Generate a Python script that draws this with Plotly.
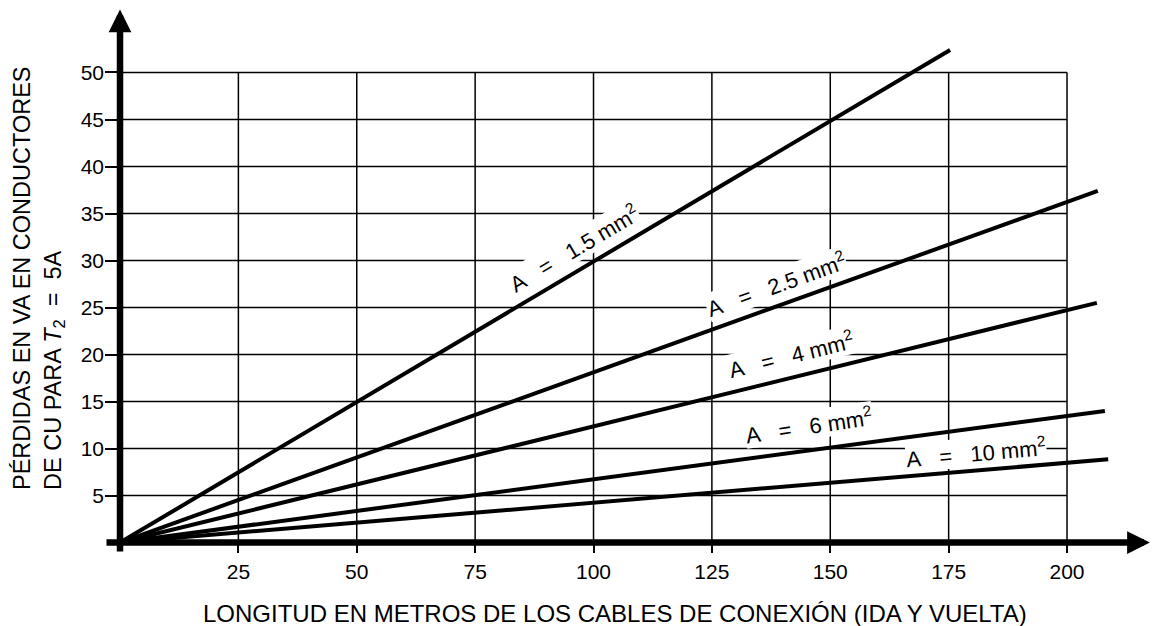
import plotly.graph_objects as go

# ---- data ----
x_ticks = [25, 50, 75, 100, 125, 150, 175, 200]
y_ticks = [5, 10, 15, 20, 25, 30, 35, 40, 45, 50]

sections = ["1.5", "2.5", "4", "6", "10"]          # conductor cross-section, mm²
x_end = [175.3, 206.5, 206.3, 208.0, 208.7]        # metres at end of each drawn line
y_end = [52.4, 37.4, 25.5, 14.0, 8.85]             # VA at end of each drawn line

# label placement (data coords) and rotation
label_x = [95.8, 138.5, 141.8, 145.5, 180.8]
label_y = [31.3, 27.55, 20.1, 12.5, 9.65]
label_angle = [-30.7, -19.7, -13.8, -8.5, -5.0]

x_axis_end = 217.5
y_axis_end = 56.7

FONT = "Arial, Liberation Sans, Helvetica, sans-serif"

# geometry (page body has an 8px margin, so the figure is offset by 8px)
W, H = 1152, 618
L, R, T, B = 97, 5, 0, 73
x_range = [-3.17, 218.58]
y_range = [-1.11, 56.86]

fig = go.Figure()

# grid (only within 0..200 x 0..50)
gx, gy = [], []
gmax_x, gmax_y = x_ticks[-1], y_ticks[-1]
for yv in y_ticks:
    gx += [0, gmax_x, None]
    gy += [yv, yv, None]
for xv in x_ticks:
    gx += [xv, xv, None]
    gy += [0, gmax_y, None]
fig.add_trace(go.Scatter(x=gx, y=gy, mode="lines",
                         line=dict(color="black", width=1.5),
                         hoverinfo="skip", showlegend=False))

# loss lines
for s, xe, ye in zip(sections, x_end, y_end):
    fig.add_trace(go.Scatter(x=[0, xe], y=[0, ye], mode="lines",
                             line=dict(color="black", width=4),
                             name=f"A = {s} mm²", showlegend=False))

annotations = []
for s, lx, ly, ang in zip(sections, label_x, label_y, label_angle):
    annotations.append(dict(
        x=lx, y=ly, xref="x", yref="y",
        text=f"A&nbsp;&nbsp; =&nbsp;&nbsp; {s} mm<sup>2</sup>",
        showarrow=False, textangle=ang,
        font=dict(family=FONT, size=22, color="black"),
        bgcolor="white", borderpad=0,
        xanchor="center", yanchor="middle"))

# axes with arrowheads
annotations.append(dict(x=x_axis_end, y=0, ax=x_range[0], ay=0,
                        xref="x", yref="y", axref="x", ayref="y",
                        text="", showarrow=True, arrowhead=2, arrowsize=0.7,
                        arrowwidth=6.5, arrowcolor="black"))
annotations.append(dict(x=0, y=y_axis_end, ax=0, ay=y_range[0],
                        xref="x", yref="y", axref="x", ayref="y",
                        text="", showarrow=True, arrowhead=2, arrowsize=0.7,
                        arrowwidth=6.5, arrowcolor="black"))

OFF = 8
pw = W - L - R
ph = H - T - B
# axis titles (positions given in screen pixels, minus page offset)
annotations.append(dict(
    x=(615 - OFF - L) / pw, y=(H - B - (613 - OFF)) / ph, xref="paper", yref="paper",
    text="LONGITUD EN METROS DE LOS CABLES DE CONEXIÓN (IDA Y VUELTA)",
    showarrow=False, xanchor="center", yanchor="middle",
    font=dict(family=FONT, size=24, color="black")))
annotations.append(dict(
    x=(38 - OFF - L) / pw, y=(H - B - (492 - OFF)) / ph, xref="paper", yref="paper",
    text="PÉRDIDAS EN VA EN CONDUCTORES<br>DE CU PARA <i>T</i><sub>2</sub>&nbsp; =&nbsp; 5A",
    showarrow=False, textangle=-90, align="left",
    xanchor="center", yanchor="bottom",
    font=dict(family=FONT, size=23.5, color="black")))

fig.update_layout(
    width=W, height=H,
    margin=dict(l=L, r=R, t=T, b=B, pad=0),
    paper_bgcolor="white", plot_bgcolor="white",
    annotations=annotations,
    xaxis=dict(range=x_range, tickvals=x_ticks, ticktext=[str(v) for v in x_ticks],
               ticks="inside", ticklen=11, tickwidth=2, tickcolor="black",
               ticklabelstandoff=4,
               showgrid=False, zeroline=False, showline=False,
               tickfont=dict(family=FONT, size=21, color="black")),
    yaxis=dict(range=y_range, tickvals=y_ticks, ticktext=[str(v) for v in y_ticks],
               ticks="inside", ticklen=14, tickwidth=2, tickcolor="black",
               showgrid=False, zeroline=False, showline=False,
               tickfont=dict(family=FONT, size=21, color="black")),
)

fig.write_html("out.html")
